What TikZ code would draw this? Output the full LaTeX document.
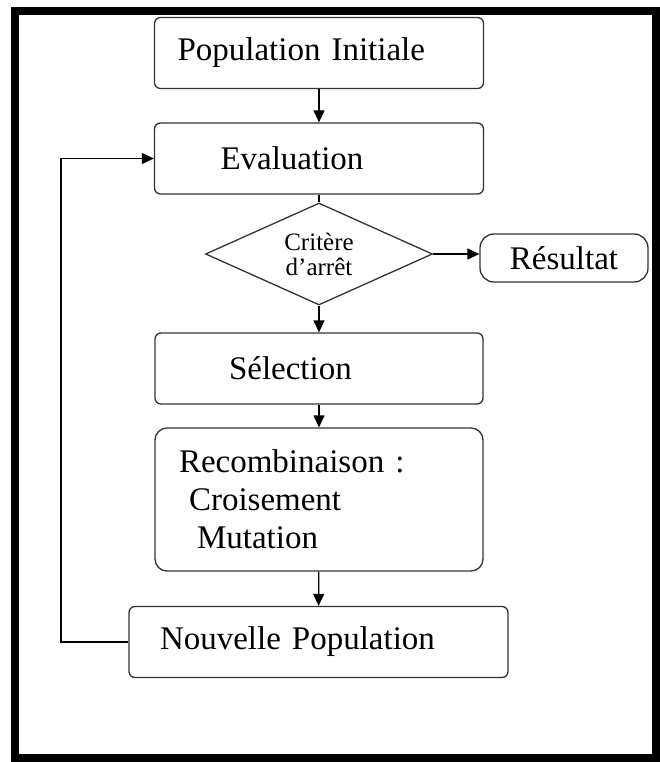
\documentclass[tikz,border=0pt]{standalone}
\usepackage{fontspec}
\setmainfont{Liberation Serif}
\usetikzlibrary{arrows.meta,shapes.geometric}

\tikzset{
  boite/.style={draw=black!80, line width=1.3pt, rounded corners=6pt, inner ysep=0pt,
    minimum height=71pt, font=\fontsize{33}{38}\selectfont},
  gauche/.style={align=left},
  fleche/.style={-{Triangle[width=11pt,length=12pt]}, line width=1.3pt},
}

\begin{document}
\begin{tikzpicture}[x=1pt,y=-1pt]
  \useasboundingbox (0,0) rectangle (660,762);
  % cadre
  \draw [line width=8pt] (15,11) rectangle (656,758);
  % etapes
  \node [boite, gauche, inner xsep=23pt, text width=283pt] (init) at (319,53) {Population Initiale};
  \node [boite, gauche, inner xsep=66pt, text width=197pt] (eval) at (319,158.5) {Evaluation};
  \node [diamond, draw=black!80, line width=1.3pt, inner sep=0pt, aspect=2.2,
    minimum width=227pt, minimum height=102pt, align=center,
    font=\fontsize{25}{25}\selectfont] (crit) at (319,254) {Critère\\d’arrêt};
  \node [boite, rounded corners=14pt, minimum width=168pt, minimum height=48pt, inner xsep=0pt] (res) at (564,258) {Résultat};
  \node [boite, gauche, inner xsep=74pt, text width=180pt] (sel) at (319,368.5) {Sélection};
  \node [boite, gauche, rounded corners=12pt, minimum height=143pt, inner xsep=24pt, text width=280pt] (reco) at (319,499.5)
    {Recombinaison :\\\hspace*{10pt}Croisement\\\hspace*{18pt}Mutation};
  \node [boite, gauche, inner xsep=31pt, text width=317pt] (np) at (318.5,642) {Nouvelle Population};
  \coordinate (retour) at (61,642);
  % liaisons
  \draw [fleche] (init) -- (eval);
  \draw [line width=1.3pt] (eval) -- (crit);
  \draw [fleche] (crit) -- (sel);
  \draw [fleche] (crit.east) -- (crit.east -| res.west);
  \draw [fleche] (sel) -- (reco);
  \draw [fleche] (reco) -- (np);
  \draw [fleche] (np.west) -- (retour) |- (eval.west);
\end{tikzpicture}
\end{document}
